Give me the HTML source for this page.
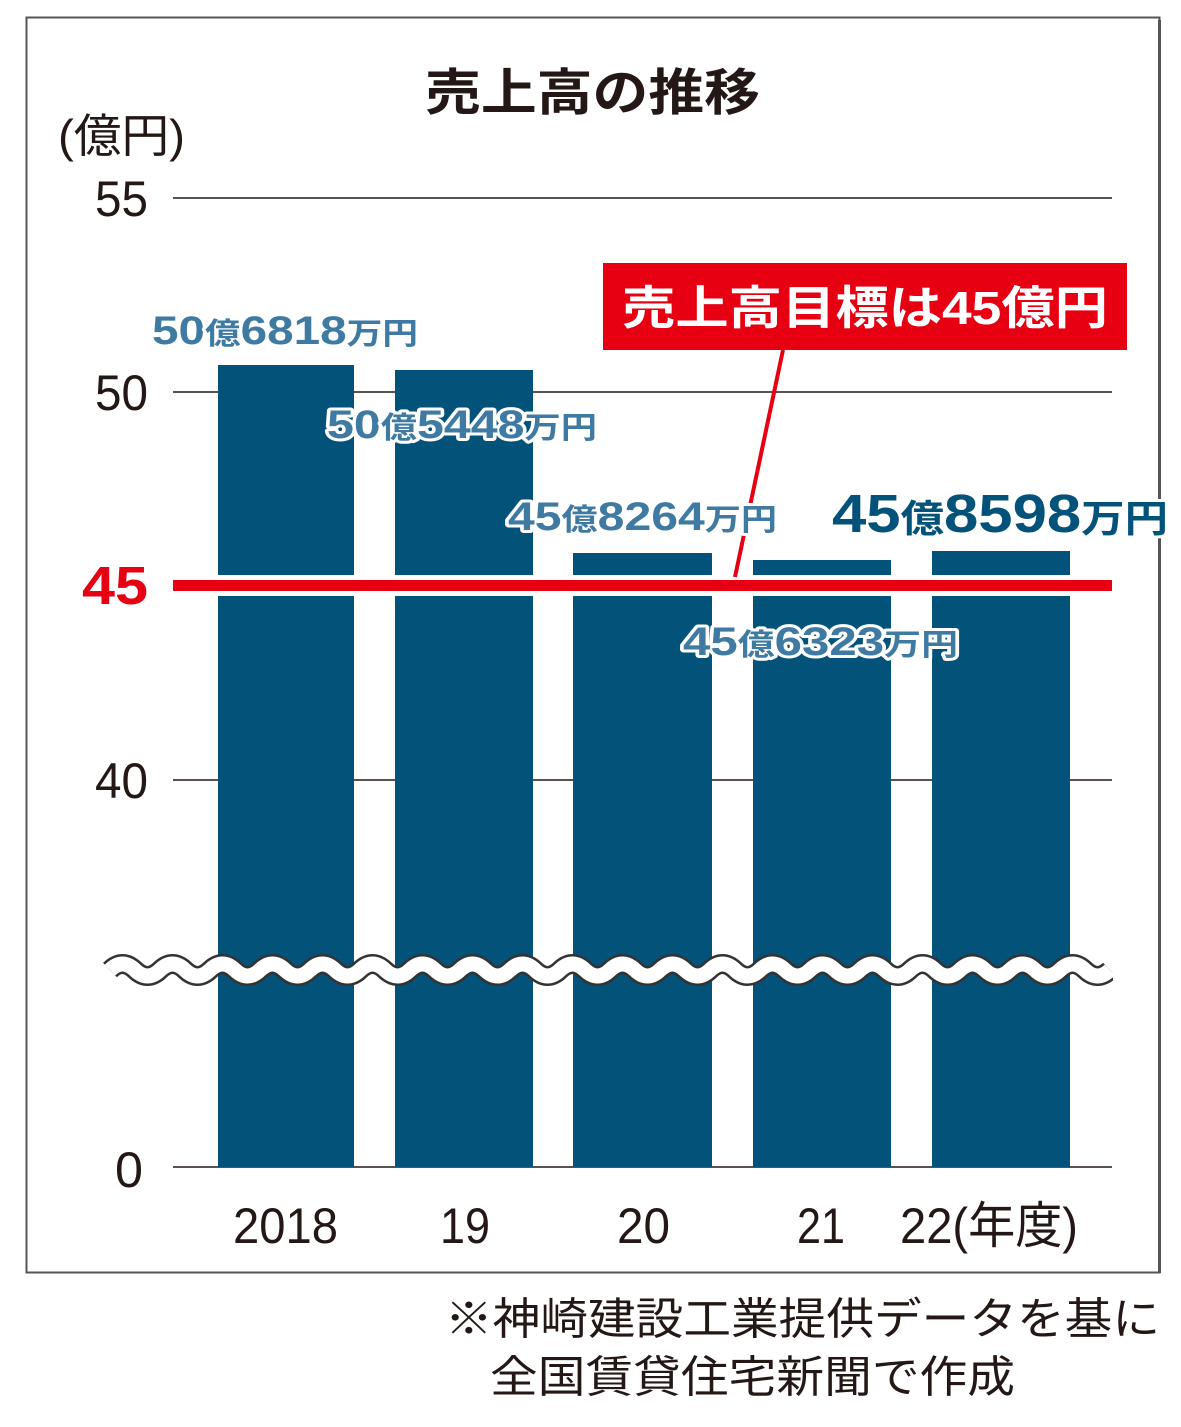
<!DOCTYPE html>
<html><head><meta charset="utf-8"><style>
html,body{margin:0;padding:0;background:#fff}
svg{display:block}
text{font-family:"Liberation Sans","Noto Sans CJK JP",sans-serif}
</style></head><body>
<svg width="1181" height="1427" viewBox="0 0 1181 1427" xmlns="http://www.w3.org/2000/svg">
<rect x="26.5" y="17.5" width="1133" height="1255" fill="#fff" stroke="#555" stroke-width="2"/>
<text x="425" y="110" font-size="50" font-weight="bold" fill="#231815" textLength="335" lengthAdjust="spacingAndGlyphs">売上高の推移</text>
<text x="58" y="152" font-size="46" fill="#231815" textLength="127" lengthAdjust="spacingAndGlyphs">(億円)</text>
<g stroke="#231815" stroke-width="1.6">
<line x1="173" y1="198" x2="1112" y2="198"/>
<line x1="173" y1="392" x2="1112" y2="392"/>
<line x1="173" y1="780" x2="1112" y2="780"/>
<line x1="173" y1="1167" x2="1112" y2="1167"/>
</g>
<g font-size="50" fill="#231815">
<text x="95" y="216" textLength="53" lengthAdjust="spacingAndGlyphs">55</text>
<text x="95" y="410" textLength="53" lengthAdjust="spacingAndGlyphs">50</text>
<text x="95" y="798" textLength="53" lengthAdjust="spacingAndGlyphs">40</text>
<text x="115" y="1187" textLength="28" lengthAdjust="spacingAndGlyphs">0</text>
</g>
<text x="82" y="604" font-size="54" font-weight="bold" fill="#e60012" textLength="66" lengthAdjust="spacingAndGlyphs">45</text>
<g fill="#03527a">
<rect x="218" y="365" width="136" height="802"/>
<rect x="395" y="370" width="138" height="797"/>
<rect x="573" y="553" width="139" height="614"/>
<rect x="753" y="560" width="138" height="607"/>
<rect x="932" y="551" width="138" height="616"/>
</g>
<rect x="173" y="575" width="939" height="21" fill="#fff"/>
<rect x="173" y="580" width="939" height="11" fill="#e60012"/>
<path d="M110,970 q12.5,-12 25,0 t25,0 t25,0 t25,0 t25,0 t25,0 t25,0 t25,0 t25,0 t25,0 t25,0 t25,0 t25,0 t25,0 t25,0 t25,0 t25,0 t25,0 t25,0 t25,0 t25,0 t25,0 t25,0 t25,0 t25,0 t25,0 t25,0 t25,0 t25,0 t25,0 t25,0 t25,0 t25,0 t25,0 t25,0 t25,0 t25,0 t25,0 t25,0 t25,0" fill="none" stroke="#333" stroke-width="20"/>
<path d="M110,970 q12.5,-12 25,0 t25,0 t25,0 t25,0 t25,0 t25,0 t25,0 t25,0 t25,0 t25,0 t25,0 t25,0 t25,0 t25,0 t25,0 t25,0 t25,0 t25,0 t25,0 t25,0 t25,0 t25,0 t25,0 t25,0 t25,0 t25,0 t25,0 t25,0 t25,0 t25,0 t25,0 t25,0 t25,0 t25,0 t25,0 t25,0 t25,0 t25,0 t25,0 t25,0" fill="none" stroke="#fff" stroke-width="15"/>
<rect x="1113" y="940" width="60" height="60" fill="#fff"/>
<rect x="1158" y="20" width="3" height="1253" fill="#555"/>
<line x1="783" y1="350" x2="735" y2="577" stroke="#e60012" stroke-width="4"/>
<rect x="603" y="263" width="524" height="87" fill="#e60012"/>
<text x="622" y="324" font-size="46" font-weight="bold" fill="#fff" textLength="486" lengthAdjust="spacingAndGlyphs">売上高目標は45億円</text>
<g font-weight="bold" stroke="#fff" stroke-width="6" paint-order="stroke" stroke-linejoin="round">
<text x="152" y="344" font-size="40" fill="#3f7aa3" textLength="266" lengthAdjust="spacingAndGlyphs">50<tspan font-size="30">億</tspan>6818<tspan font-size="30">万円</tspan></text>
<text x="327" y="438" font-size="40" fill="#3f7aa3" textLength="270" lengthAdjust="spacingAndGlyphs">50<tspan font-size="30">億</tspan>5448<tspan font-size="30">万円</tspan></text>
<text x="508" y="530" font-size="40" fill="#3f7aa3" textLength="269" lengthAdjust="spacingAndGlyphs">45<tspan font-size="30">億</tspan>8264<tspan font-size="30">万円</tspan></text>
<text x="683" y="655" font-size="40" fill="#3f7aa3" textLength="275" lengthAdjust="spacingAndGlyphs">45<tspan font-size="30">億</tspan>6323<tspan font-size="30">万円</tspan></text>
<text x="832" y="532" font-size="54" fill="#03527a" textLength="336" lengthAdjust="spacingAndGlyphs">45<tspan font-size="38">億</tspan>8598<tspan font-size="38">万円</tspan></text>
</g>
<g font-size="50" fill="#231815">
<text x="233" y="1243" textLength="105" lengthAdjust="spacingAndGlyphs">2018</text>
<text x="440" y="1243" textLength="50" lengthAdjust="spacingAndGlyphs">19</text>
<text x="617" y="1243" textLength="53" lengthAdjust="spacingAndGlyphs">20</text>
<text x="797" y="1243" textLength="48" lengthAdjust="spacingAndGlyphs">21</text>
<text x="900" y="1243" textLength="178" lengthAdjust="spacingAndGlyphs">22(年度)</text>
</g>
<text x="445" y="1334" font-size="44" fill="#231815" textLength="715" lengthAdjust="spacingAndGlyphs">※神崎建設工業提供データを基に</text>
<text x="490" y="1392" font-size="44" fill="#231815" textLength="525" lengthAdjust="spacingAndGlyphs">全国賃貸住宅新聞で作成</text>
</svg>
</body></html>
